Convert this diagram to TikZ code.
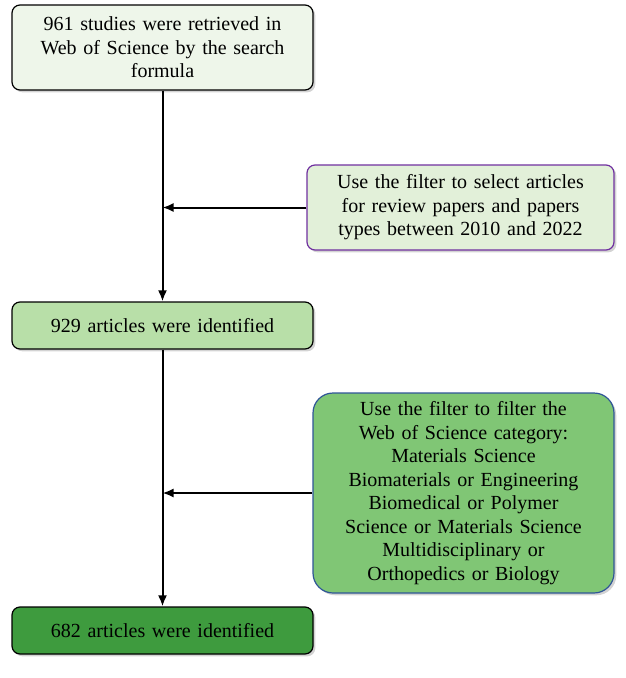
\documentclass[tikz,border=0pt]{standalone}
\usepackage{fontspec}
\setmainfont{Liberation Serif}
\usetikzlibrary{positioning,shadows,arrows.meta}
\definecolor{boxa}{HTML}{EEF6EA}
\definecolor{boxb}{HTML}{E2F0D9}
\definecolor{boxc}{HTML}{B8DFA8}
\definecolor{boxd}{HTML}{80C675}
\definecolor{boxe}{HTML}{3E9B3E}
\definecolor{edgeb}{HTML}{7030A0}
\definecolor{edged}{HTML}{2F5597}
\tikzset{
  stepbox/.style={draw, rounded corners=8pt, line width=1.2pt, align=center,
    font=\fontsize{20}{23.5}\selectfont, drop shadow={opacity=0.35}, inner sep=3pt},
  mainbox/.style={stepbox, minimum width=301pt, text width=292pt},
  filterbox/.style={stepbox, text width=300pt},
  flow/.style={line width=2pt, -{Latex[length=11pt,width=9pt]}}
}
\begin{document}
\begin{tikzpicture}[x=1pt,y=-1pt]
  \useasboundingbox (0,0) rectangle (626,678);
  % Main column
  \node[mainbox, fill=boxa, minimum height=85pt] (retrieved) at (162.5,47.5)
    {961 studies were retrieved in\\ Web of Science by the search\\ formula};
  \node[mainbox, fill=boxc, minimum height=47pt] (identA) at (162.5,325.5)
    {929 articles were identified};
  \node[mainbox, fill=boxe, minimum height=47pt] (identB) at (162.5,630.5)
    {682 articles were identified};
  % Filters
  \node[filterbox, fill=boxb, draw=edgeb, minimum width=307pt, minimum height=85pt] (typefilter) at (460.5,207.5)
    {Use the filter to select articles\\ for review papers and papers\\ types between 2010 and 2022};
  \node[filterbox, fill=boxd, draw=edged, rounded corners=20pt, text width=292pt, minimum width=301pt, minimum height=200pt] (catfilter) at (463.5,493)
    {Use the filter to filter the\\ Web of Science category:\\ Materials Science\\ Biomaterials or Engineering\\ Biomedical or Polymer\\ Science or Materials Science\\ Multidisciplinary or\\ Orthopedics or Biology};
  % Connectors
  \coordinate (joinA) at (retrieved.south |- typefilter.west);
  \coordinate (joinB) at (identA.south |- catfilter.west);
  \draw[flow] (retrieved.south) -- (identA.north);
  \draw[flow] (identA.south) -- (identB.north);
  \draw[flow] (typefilter.west) -- (joinA);
  \draw[flow] (catfilter.west) -- (joinB);
\end{tikzpicture}
\end{document}
